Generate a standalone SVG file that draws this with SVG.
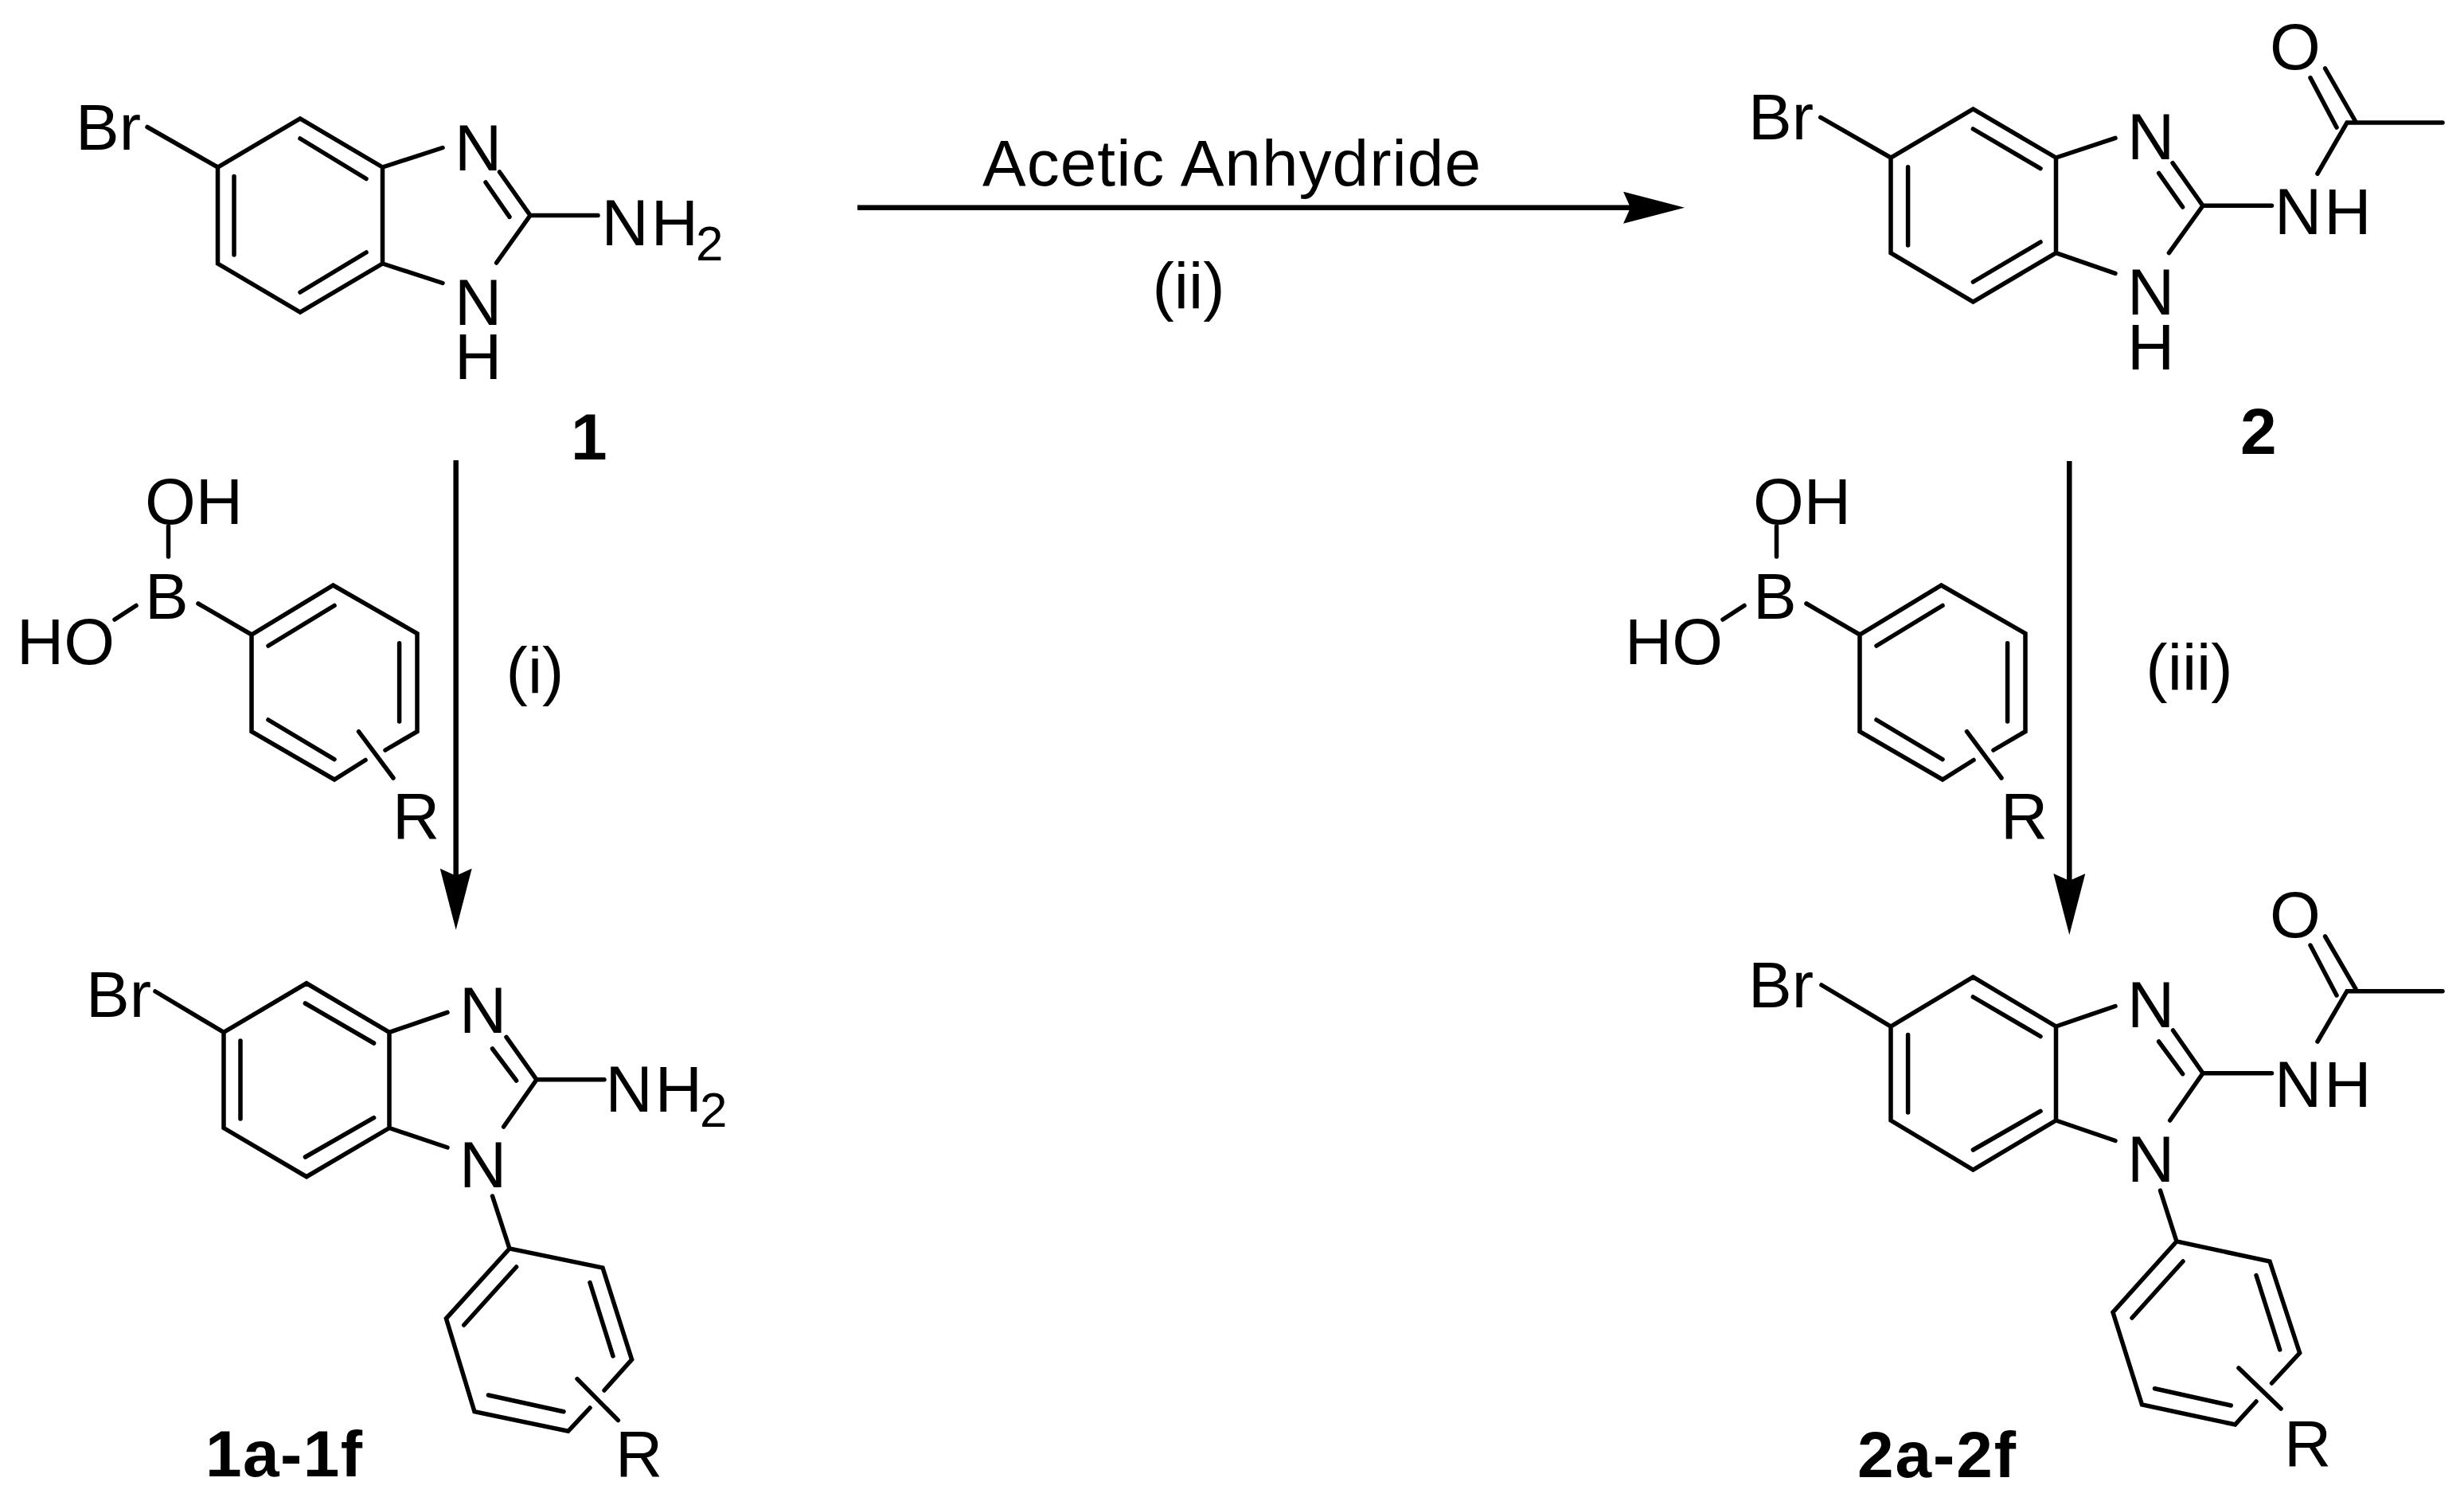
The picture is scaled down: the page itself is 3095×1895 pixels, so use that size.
<svg xmlns="http://www.w3.org/2000/svg" width="3095" height="1895" viewBox="0 0 3095 1895">
<style>
.b{fill:none;stroke:#000;stroke-width:5.5;stroke-linecap:round;stroke-linejoin:miter}
.a{fill:none;stroke:#000;stroke-width:6.5}
text{font-family:"Liberation Sans",Arial,sans-serif;font-size:82px;fill:#000}
.c{font-weight:700}
.m{text-anchor:middle}
.n{letter-spacing:3px}
.s{font-size:62px}
</style>
<defs>
<marker id="head" markerUnits="userSpaceOnUse" viewBox="0 0 77 40" markerWidth="77" markerHeight="40" refX="47" refY="20" orient="auto"><path d="M0,0L77,20L0,40L9,20Z" fill="#000"/></marker>
</defs>
<rect width="3095" height="1895" fill="#fff"/>
<g id="connectors">
<path class="a" d="M1077,260.7H2086" marker-end="url(#head)"/>
<path class="a" d="M572.7,578V1137.7" marker-end="url(#head)"/>
<path class="a" d="M2599.3,579V1144" marker-end="url(#head)"/>
</g>
<g id="label-ii-top"><text x="1234" y="232.7" textLength="626">Acetic Anhydride</text></g>
<g id="label-ii"><text class="m" x="1493" y="387">(ii)</text></g>
<g id="label-i"><text class="m" x="672" y="870">(i)</text></g>
<g id="label-iii"><text class="m" x="2750" y="866">(iii)</text></g>
<g id="compound-1">
<path class="b" d="M185,159.5L273.5,210L377,149L480.5,210V331L377,392L273.5,331V210M377,174L460,224.5M294,221.5V320M377,367L460,317M480.5,210L556,185.5M480.5,331L556,355.5M627.5,216L666,270.5L623.6,330M610,229L640,272.4M666,270.5H751"/>
<text x="95" y="188">Br</text>
<text x="571" y="214">N</text>
<text x="571" y="407.5">N</text>
<text x="571" y="476">H</text>
<text class="n" x="755.5" y="308">NH<tspan class="s" dx="-6" dy="18.5">2</tspan></text>
<text class="c" x="717" y="577">1</text>
</g>
<g id="boronic-acid-1">
<path class="b" d="M211.5,661V699M144,778L171,760.5M249,758L316,797L418.5,735L524,795.5V918.6L484,942M459,954.5L420,979L316,918.6V797M337,811L420,760.5M501.6,807.7V906M337,904L420,953.7M450.5,918.6L494,977"/>
<text x="182" y="658">OH</text>
<text x="182" y="777">B</text>
<text x="21" y="834">HO</text>
<text x="493" y="1052.7">R</text>
</g>
<g id="compound-1a-1f">
<path class="b" d="M195,1245L281,1296.4L385,1234.8L489,1296.4V1416.5L385,1477.7L281,1416.5V1296.4M383.4,1260L469.6,1310M302,1307V1405M383.4,1453L469.6,1403.7M489,1296.4L562,1271.3M489,1416.5L562,1441M636,1302.4L674,1355.8L632.6,1415M618.5,1317L648.6,1357M674,1355.8H759M618.5,1502L640,1568L757,1592L793.6,1707.4L759,1746M741,1768L713.7,1797.3L596,1772.7L560.4,1655.8L640,1568M648.6,1591L582.7,1664M741,1610.6L770,1703M613.4,1752L708,1772.7M725,1731.6L776.4,1783.6"/>
<text x="108" y="1277">Br</text>
<text x="577" y="1297">N</text>
<text x="577" y="1490.5">N</text>
<text class="n" x="760.5" y="1396">NH<tspan class="s" dx="-6" dy="19">2</tspan></text>
<text x="773" y="1853.5">R</text>
<text class="c" x="258" y="1853.5" textLength="197">1a-1f</text>
</g>
<g id="compound-2">
<path class="b" d="M2286.7,147.3L2375,198L2478.4,137L2582.5,198V317.6L2478.4,379L2375,317.6V198M2478.4,162L2563,211.6M2396.6,209.7V308M2478.4,354L2563,304M2582.5,198L2657,173.4M2582.5,317.6L2657,343.3M2729,204.7L2767,258.3L2724.4,317.6M2711.6,217.4L2741.6,260M2767,258.3H2853.5M2911,218L2948,154H3068M2920.6,86L2959,153M2902,97.6L2935,160"/>
<text x="2196" y="175">Br</text>
<text x="2672" y="200">N</text>
<text x="2672" y="395">N</text>
<text x="2672" y="464">H</text>
<text class="n" x="2857" y="294">NH</text>
<text x="2851" y="87">O</text>
<text class="c" x="2814" y="570">2</text>
</g>
<g id="boronic-acid-2" transform="translate(2020,0)">
<path class="b" d="M211.5,661V699M144,778L171,760.5M249,758L316,797L418.5,735L524,795.5V918.6L484,942M459,954.5L420,979L316,918.6V797M337,811L420,760.5M501.6,807.7V906M337,904L420,953.7M450.5,918.6L494,977"/>
<text x="182" y="658">OH</text>
<text x="182" y="777">B</text>
<text x="21" y="834">HO</text>
<text x="493" y="1052.7">R</text>
</g>
<g id="compound-2a-2f">
<path class="b" d="M2288,1237L2375,1289L2478.4,1227L2582.5,1289V1407L2478.4,1469L2375,1407V1289M2478.4,1252L2563,1301.5M2396.6,1299.5V1397M2478.4,1444L2563,1395.4M2582.5,1289L2657,1263.5M2582.5,1407L2657,1432.5M2729.5,1294L2767,1347.7L2725.7,1407M2711.6,1308L2741.6,1348.7M2767,1347.7H2853.5M2911,1308L2948,1244.7H3068M2920.6,1176L2959,1242M2902,1187L2935,1250M2713.5,1495L2734,1559L2851,1584L2888.6,1699L2853.5,1737M2834,1760L2807.5,1789L2690.5,1764L2654,1648L2734,1559M2742,1584L2678,1655M2834,1601.5L2863.7,1695M2706.5,1743.7L2802.3,1765M2812,1718L2865,1769"/>
<text x="2196" y="1265">Br</text>
<text x="2672" y="1290.4">N</text>
<text x="2672" y="1484">N</text>
<text class="n" x="2857" y="1390">NH</text>
<text x="2851" y="1177">O</text>
<text x="2869" y="1841">R</text>
<text class="c" x="2333" y="1855" textLength="199">2a-2f</text>
</g>
</svg>
